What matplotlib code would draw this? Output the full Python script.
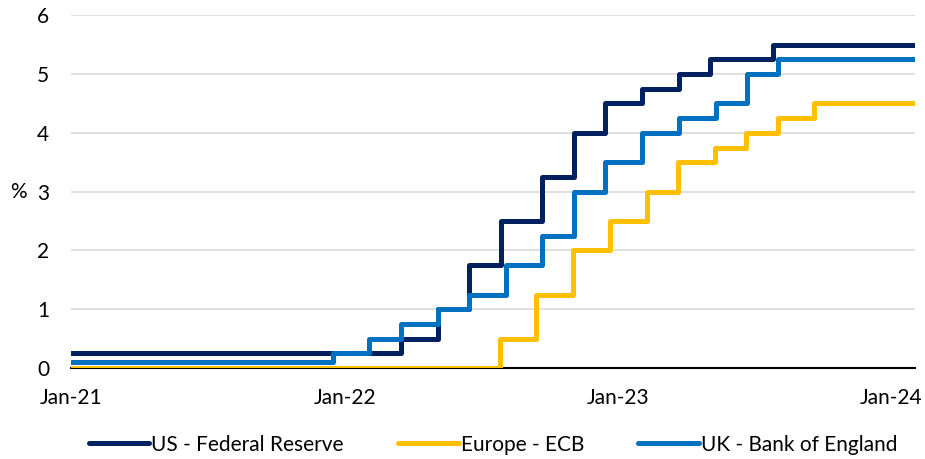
import datetime as dt
import matplotlib
matplotlib.use("Agg")
import matplotlib.pyplot as plt

plt.rcParams['font.family'] = ['Lato', 'DejaVu Sans']

# policy rate decision dates and new rate (%)
fed_dates = ["2021-01-01", "2022-03-17", "2022-05-05", "2022-06-16", "2022-07-28",
             "2022-09-22", "2022-11-03", "2022-12-15", "2023-02-02", "2023-03-23",
             "2023-05-04", "2023-07-27"]
fed_rates = [0.25, 0.5, 1.0, 1.75, 2.5, 3.25, 4.0, 4.5, 4.75, 5.0, 5.25, 5.5]

ecb_dates = ["2021-01-01", "2022-07-27", "2022-09-14", "2022-11-02", "2022-12-21",
             "2023-02-08", "2023-03-22", "2023-05-10", "2023-06-21", "2023-08-02",
             "2023-09-20"]
ecb_rates = [0.0, 0.5, 1.25, 2.0, 2.5, 3.0, 3.5, 3.75, 4.0, 4.25, 4.5]

boe_dates = ["2021-01-01", "2021-12-16", "2022-02-03", "2022-03-17", "2022-05-05",
             "2022-06-16", "2022-08-04", "2022-09-22", "2022-11-03", "2022-12-15",
             "2023-02-02", "2023-03-23", "2023-05-11", "2023-06-22", "2023-08-03"]
boe_rates = [0.1, 0.25, 0.5, 0.75, 1.0, 1.25, 1.75, 2.25, 3.0, 3.5, 4.0, 4.25,
             4.5, 5.0, 5.25]

end_date = "2024-02-01"
tick_dates = ["2021-01-01", "2022-01-01", "2023-01-01", "2024-01-01"]
tick_labels = ["Jan-21", "Jan-22", "Jan-23", "Jan-24"]

series = [
    ("US - Federal Reserve", fed_dates, fed_rates, "#002060"),
    ("Europe - ECB", ecb_dates, ecb_rates, "#FFC000"),
    ("UK - Bank of England", boe_dates, boe_rates, "#0070C0"),
]


def to_dt(s):
    return dt.datetime.strptime(s, "%Y-%m-%d")


fig = plt.figure(figsize=(9.25, 4.59), dpi=100)
ax = fig.add_axes([0.077, 0.198, 0.912, 0.769])

for name, dates, rates, col in series:
    x = [to_dt(d) for d in dates] + [to_dt(end_date)]
    y = list(rates) + [rates[-1]]
    ax.step(x, y, where='post', color=col, lw=3.6, label=name, zorder=3,
            solid_capstyle='round', solid_joinstyle='round')

ax.set_xlim(to_dt("2021-01-01"), to_dt(end_date))
ax.set_ylim(0, 6)
ax.set_yticks(range(0, 7))
ax.set_xticks([to_dt(d) for d in tick_dates])
ax.set_xticklabels(tick_labels)
ax.grid(axis='y', color='#D9D9D9', lw=1.2, zorder=0)
ax.set_axisbelow(True)

for s in ['top', 'right', 'left']:
    ax.spines[s].set_visible(False)
ax.spines['bottom'].set_color('black')
ax.spines['bottom'].set_linewidth(1.5)
ax.spines['bottom'].set_zorder(2.5)

ax.tick_params(axis='both', length=0, labelsize=15, colors='#000000')
ax.tick_params(axis='x', pad=14)
ax.tick_params(axis='y', pad=16)

ax.set_ylabel('%', rotation=0, fontsize=15, va='center', ha='center')
ax.yaxis.set_label_coords(-0.063, 0.5)

ax.legend(loc='upper center', bbox_to_anchor=(0.5, -0.135), ncol=3, frameon=False,
          fontsize=15, handlelength=2.9, handletextpad=0.1, columnspacing=2.6)

fig.savefig("out.png", dpi=100)
